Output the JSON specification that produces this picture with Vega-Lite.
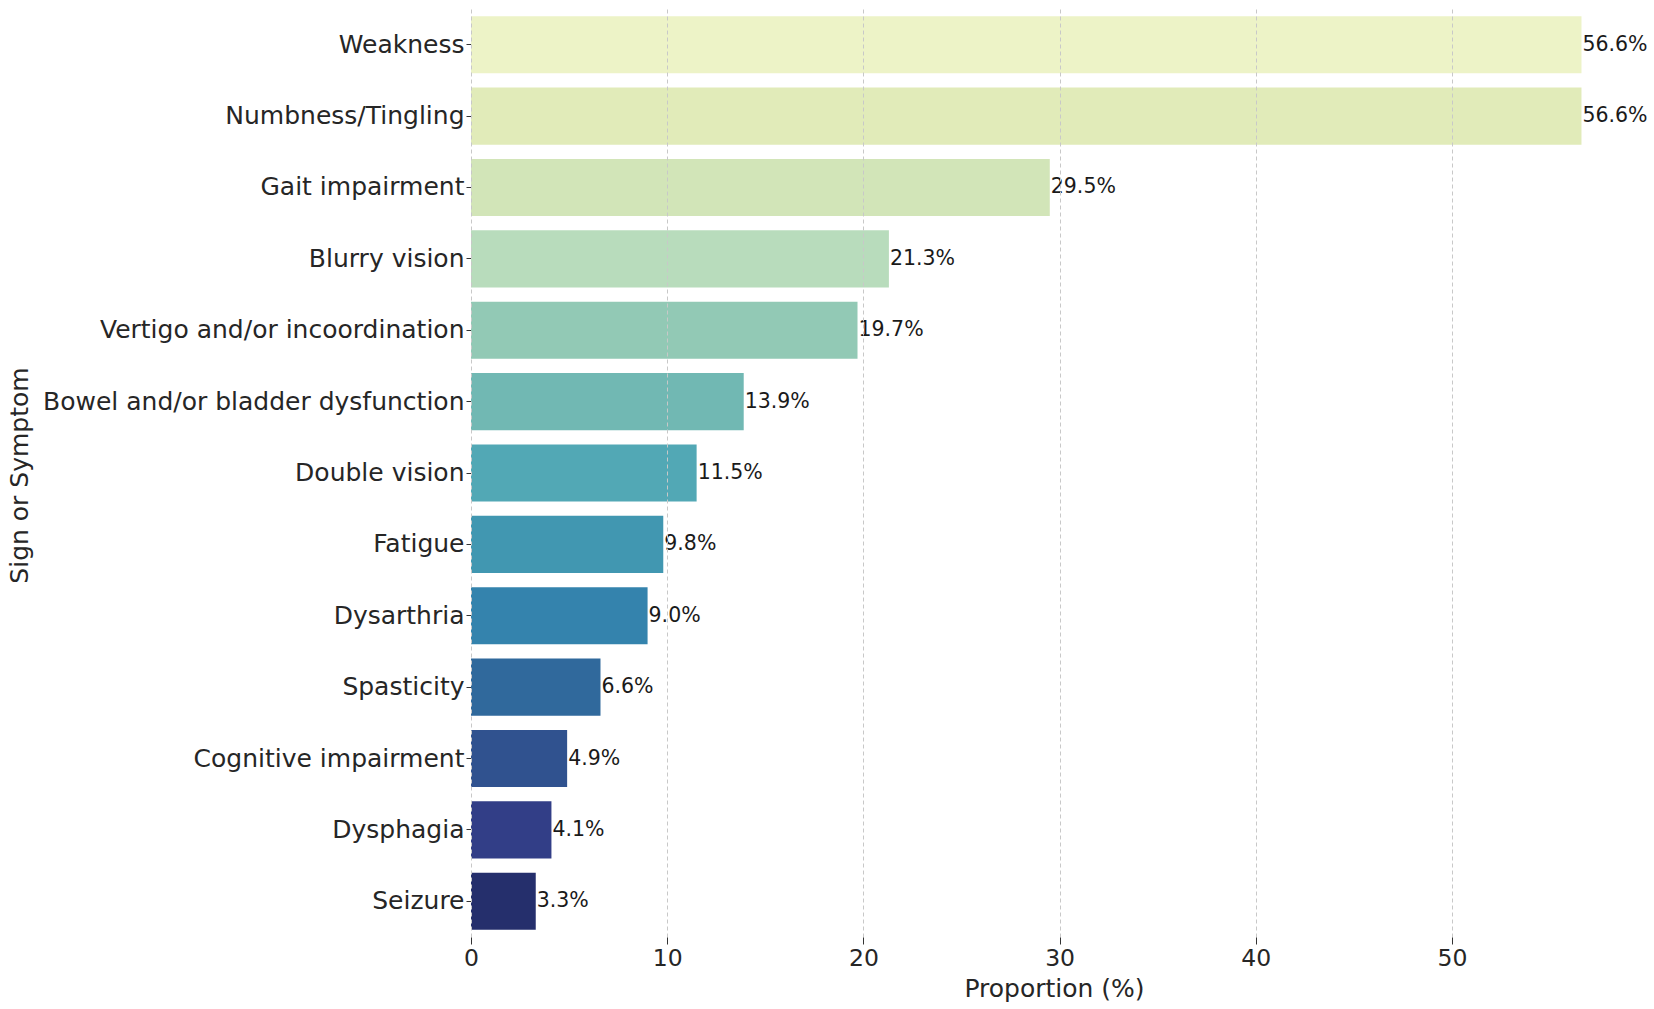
{
  "$schema": "https://vega.github.io/schema/vega-lite/v6.json",
  "width": 1166,
  "height": 928,
  "autosize": {"type": "none"},
  "padding": {"left": 471, "top": 9, "right": 17, "bottom": 72},
  "background": "white",
  "config": {
    "font": "DejaVu Sans",
    "view": {"stroke": null}
  },
  "data": {
    "values": [
      {"symptom": "Weakness", "value": 56.6, "label": "56.6%"},
      {"symptom": "Numbness/Tingling", "value": 56.6, "label": "56.6%"},
      {"symptom": "Gait impairment", "value": 29.5, "label": "29.5%"},
      {"symptom": "Blurry vision", "value": 21.3, "label": "21.3%"},
      {"symptom": "Vertigo and/or incoordination", "value": 19.7, "label": "19.7%"},
      {"symptom": "Bowel and/or bladder dysfunction", "value": 13.9, "label": "13.9%"},
      {"symptom": "Double vision", "value": 11.5, "label": "11.5%"},
      {"symptom": "Fatigue", "value": 9.8, "label": "9.8%"},
      {"symptom": "Dysarthria", "value": 9.0, "label": "9.0%"},
      {"symptom": "Spasticity", "value": 6.6, "label": "6.6%"},
      {"symptom": "Cognitive impairment", "value": 4.9, "label": "4.9%"},
      {"symptom": "Dysphagia", "value": 4.1, "label": "4.1%"},
      {"symptom": "Seizure", "value": 3.3, "label": "3.3%"}
    ]
  },
  "encoding": {
    "y": {
      "field": "symptom",
      "type": "nominal",
      "sort": null,
      "scale": {"paddingInner": 0.2, "paddingOuter": 0.1},
      "axis": {
        "title": "Sign or Symptom",
        "titleFontSize": 25,
        "titleFontWeight": "normal",
        "titleColor": "#262626",
        "titleAngle": 270,
        "titleX": -452,
        "titleY": 466,
        "titleAlign": "center",
        "titleBaseline": "middle",
        "labelFontSize": 25,
        "labelLimit": 0,
        "labelColor": "#262626",
        "labelPadding": 2,
        "tickSize": 5,
        "tickColor": "#333333",
        "domain": false,
        "grid": false
      }
    },
    "x": {
      "field": "value",
      "type": "quantitative",
      "scale": {"domain": [0, 59.43], "nice": false, "zero": true},
      "axis": {
        "title": "Proportion (%)",
        "titleFontSize": 25,
        "titleFontWeight": "normal",
        "titleColor": "#262626",
        "titlePadding": 7,
        "values": [0, 10, 20, 30, 40, 50],
        "labelFontSize": 23.5,
        "labelFlush": false,
        "labelColor": "#262626",
        "labelPadding": 2,
        "tickSize": 7,
        "tickColor": "#333333",
        "domain": false,
        "grid": true,
        "gridColor": "#c8c8c8",
        "gridDash": [4, 3],
        "gridWidth": 1,
        "zindex": 1
      }
    }
  },
  "layer": [
    {
      "mark": {"type": "bar"},
      "encoding": {
        "color": {
          "field": "symptom",
          "type": "nominal",
          "legend": null,
          "scale": {
            "domain": ["Weakness", "Numbness/Tingling", "Gait impairment", "Blurry vision", "Vertigo and/or incoordination", "Bowel and/or bladder dysfunction", "Double vision", "Fatigue", "Dysarthria", "Spasticity", "Cognitive impairment", "Dysphagia", "Seizure"],
            "range": ["#edf3c7", "#e1ebb9", "#d2e5b8", "#b8dcbc", "#92c9b5", "#71b8b3", "#52a8b5", "#4197b1", "#3483ad", "#30699c", "#30528f", "#323e87", "#252f6c"]
          }
        }
      }
    },
    {
      "mark": {"type": "text", "align": "left", "baseline": "middle", "dx": 1, "fontSize": 20.5, "color": "#1a1a1a"},
      "encoding": {
        "text": {"field": "label", "type": "nominal"}
      }
    }
  ]
}
